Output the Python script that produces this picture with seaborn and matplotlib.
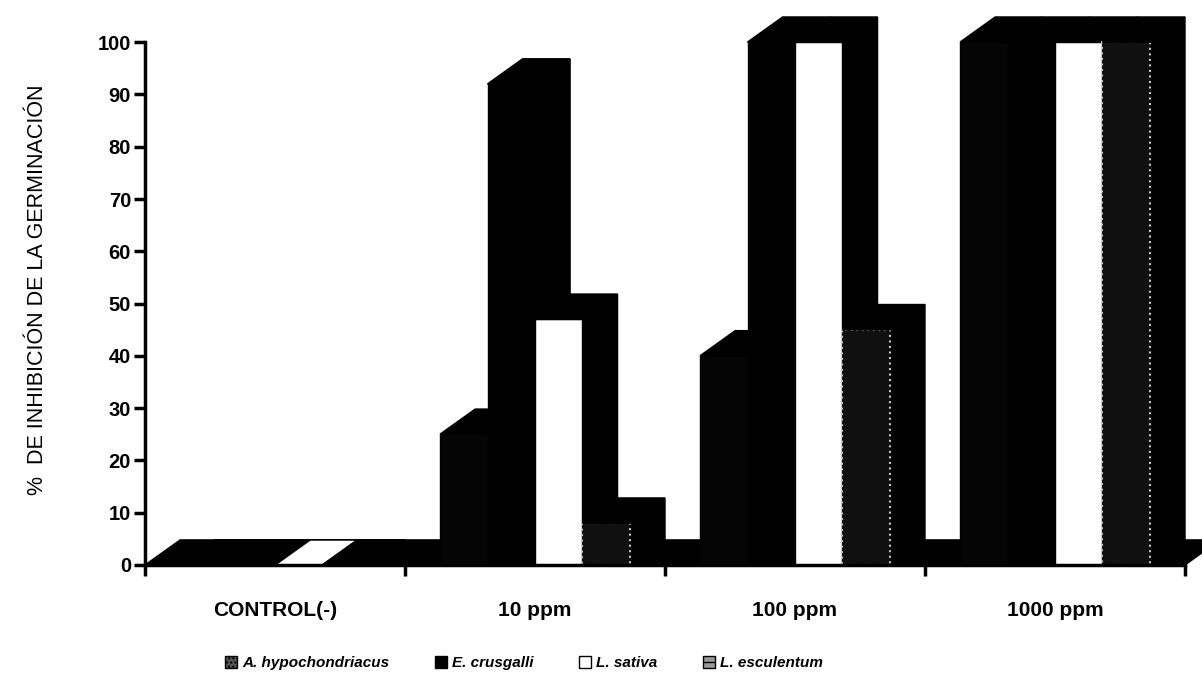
import numpy as np
import pandas as pd
import matplotlib
matplotlib.use("Agg")
import matplotlib.pyplot as plt
from matplotlib.patches import Polygon, Patch
import seaborn as sns

# ---- data ----
categories = ["CONTROL(-)", "10 ppm", "100 ppm", "1000 ppm"]
series = ["A. hypochondriacus", "E. crusgalli", "L. sativa", "L. esculentum"]
a_hypochondriacus = [0, 25, 40, 100]
e_crusgalli = [0, 92, 100, 100]
l_sativa = [0, 47, 100, 100]
l_esculentum = [0, 8, 45, 100]
y_ticks = [0, 10, 20, 30, 40, 50, 60, 70, 80, 90, 100]
y_label = "%  DE INHIBICIÓN DE LA GERMINACIÓN"

values = [a_hypochondriacus, e_crusgalli, l_sativa, l_esculentum]
df = pd.DataFrame({
    "cat": np.repeat([categories], len(series), axis=0).ravel(),
    "species": np.repeat(series, len(categories)),
    "val": np.concatenate(values),
})

front_colors = {"A. hypochondriacus": "#050505", "E. crusgalli": "#000000",
                "L. sativa": "#ffffff", "L. esculentum": "#101010"}

sns.set_style("white")
plt.rcParams["font.family"] = ["Liberation Sans", "DejaVu Sans"]
plt.rcParams["text.color"] = "black"
plt.rcParams["axes.labelcolor"] = "black"
plt.rcParams["xtick.color"] = "black"
plt.rcParams["ytick.color"] = "black"
plt.rcParams["axes.edgecolor"] = "black"

W, H = 1202, 680
fig = plt.figure(figsize=(W / 100, H / 100), dpi=100)
ax = fig.add_axes([145 / W, 1 - 565 / H, (1185 - 145) / W, (565 - 15) / H])

sns.barplot(data=df, x="cat", y="val", hue="species", order=categories,
            hue_order=series, palette=front_colors, width=0.73, saturation=1,
            edgecolor="black", linewidth=1.0, legend=False, ax=ax)

ax.set_xlim(-0.5, 3.5)
ax.set_ylim(0, 105.2)

dx = 0.135   # depth offset (category units)
dy = 4.8     # depth offset (value units)

# floor
floor = Polygon([(-0.5, 0), (-0.5 + dx, dy), (3.5 + dx, dy), (3.5, 0)],
                closed=True, facecolor="black", edgecolor="black",
                zorder=1, clip_on=False)
ax.add_patch(floor)

bars = sorted([p for p in ax.patches if p is not floor], key=lambda p: p.get_x())
for i, p in enumerate(bars):
    x0, w, h = p.get_x(), p.get_width(), p.get_height()
    fc = p.get_facecolor()
    p.set_zorder(10 + 2 * i + 1)
    is_white = fc[0] > 0.9
    if is_white:
        p.set_edgecolor("black")
    elif fc[0] > 0.05:
        p.set_edgecolor("#c8c8c8")
        p.set_linestyle(":")
        p.set_linewidth(1.5)
    side = Polygon([(x0 + w, 0), (x0 + w + dx, dy), (x0 + w + dx, h + dy), (x0 + w, h)],
                   closed=True, facecolor="black", edgecolor="black",
                   zorder=10 + 2 * i, clip_on=False)
    top_fc = "white" if (is_white and h == 0) else "black"
    top = Polygon([(x0, h), (x0 + dx, h + dy), (x0 + w + dx, h + dy), (x0 + w, h)],
                  closed=True, facecolor=top_fc, edgecolor="black", linewidth=1.2,
                  zorder=10 + 2 * i + 1, clip_on=False)
    ax.add_patch(side)
    ax.add_patch(top)

# axes styling
for s in ["top", "right"]:
    ax.spines[s].set_visible(False)
ax.spines["left"].set_bounds(0, 100)
ax.spines["left"].set_linewidth(2.5)
ax.spines["bottom"].set_linewidth(2.5)
ax.spines["left"].set_zorder(50)
ax.spines["bottom"].set_zorder(50)

ax.set_yticks(y_ticks)
ax.set_yticklabels([str(v) for v in y_ticks])
ax.tick_params(axis="y", direction="out", length=8, width=2.5, pad=2,
               labelsize=14.5, left=True)
ax.set_xticks(range(len(categories)))
ax.set_xticklabels(categories)
ax.set_xticks(np.arange(-0.5, len(categories), 1.0), minor=True)
ax.tick_params(axis="x", which="major", length=0, pad=26, labelsize=15, bottom=True)
ax.tick_params(axis="x", which="minor", direction="out", length=8, width=2.5, bottom=True)
for t in ax.get_xticklabels() + ax.get_yticklabels():
    t.set_fontweight("bold")

ax.set_xlabel("")
ax.set_ylabel(y_label, fontsize=15.5)
ax.yaxis.set_label_coords(-(145 - 48) / (1185 - 145), (565 - 290) / (565 - 15))

handles = [
    Patch(facecolor="#555555", edgecolor="black", hatch="...."),
    Patch(facecolor="black", edgecolor="black"),
    Patch(facecolor="white", edgecolor="black"),
    Patch(facecolor="#999999", edgecolor="black", hatch="--"),
]
fig.legend(handles, series, loc="center", bbox_to_anchor=(524 / W, 1 - 663 / H),
           ncol=4, frameon=False,
           prop=dict(family="Liberation Sans", weight="bold", style="italic", size=11),
           handlelength=0.8, handleheight=0.8, handletextpad=0.3, columnspacing=3.0)

fig.savefig("out.png", dpi=100)
